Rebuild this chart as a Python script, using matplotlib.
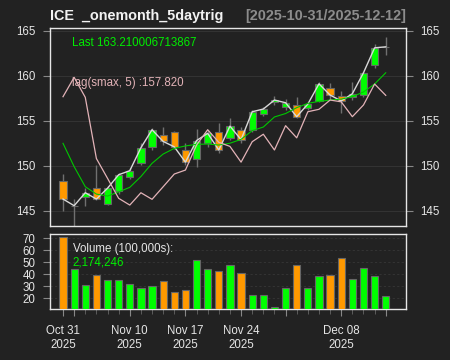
import matplotlib
matplotlib.use('Agg')
import matplotlib.pyplot as plt
import numpy as np
import pandas as pd

plt.rcParams['font.family'] = ['Liberation Sans', 'DejaVu Sans']

# trading days, Thanksgiving closed
dates = pd.bdate_range('2025-10-31', '2025-12-12')
dates = dates[dates != pd.Timestamp('2025-11-27')]

opens = [148.3, 145.55, 146.5, 147.5, 145.8, 147.2, 148.7, 150.3, 152.1, 153.4,
         153.7, 151.75, 150.7, 152.55, 153.7, 153.1, 154.0, 154.0, 155.8, 157.05,
         156.56, 156.8, 156.45, 157.2, 158.6, 157.8, 157.63, 157.86, 161.2, 163.2]
highs = [149.1, 146.3, 147.5, 150.1, 147.8, 149.2, 149.7, 152.5, 154.2, 154.3,
         153.9, 152.55, 154.1, 154.0, 154.8, 155.3, 154.3, 156.2, 156.5, 157.7,
         157.4, 157.67, 157.1, 159.3, 159.2, 158.3, 159.3, 160.45, 163.5, 164.3]
lows = [145.0, 143.2, 145.5, 146.2, 145.6, 146.9, 148.5, 150.1, 151.8, 152.3,
        151.9, 150.1, 149.9, 152.1, 151.45, 152.9, 152.5, 153.8, 155.5, 156.7,
        156.2, 155.27, 156.2, 157.1, 157.3, 155.9, 157.3, 157.67, 160.9, 162.3]
closes = [146.3, 145.56, 147.0, 146.3, 147.5, 149.0, 149.45, 152.0, 154.0, 152.7,
          152.1, 150.4, 152.8, 153.6, 151.75, 154.4, 152.9, 156.0, 156.3, 157.3,
          157.0, 155.45, 156.85, 159.1, 157.85, 157.2, 158.0, 160.33, 163.1, 163.21]
# volume in 100,000s
volume = [70.8, 44.2, 31.1, 39.7, 35.0, 35.0, 32.2, 28.6, 30.3, 34.7,
          25.4, 27.3, 51.9, 44.4, 43.0, 47.5, 41.3, 22.75, 22.75, 13.0,
          28.3, 48.0, 28.6, 38.6, 39.2, 53.8, 35.8, 45.1, 38.6, 21.74]
sma = [152.49, 149.9, 147.67, 146.85, 146.63, 147.1, 147.6, 148.8, 150.27, 151.3,
       151.93, 152.2, 152.38, 152.41, 152.3, 152.5, 152.93, 153.9, 154.3, 155.42,
       155.8, 156.45, 156.93, 157.15, 157.3, 157.4, 157.67, 158.2, 159.08, 160.33]
lag_smax = [157.67, 159.82, 157.6, 150.8, 148.6, 146.38, 145.63, 147.0, 146.27, 147.67,
            149.08, 149.52, 152.3, 154.0, 152.6, 152.15, 150.4, 152.67, 153.5, 151.75,
            154.45, 153.1, 156.0, 156.27, 157.3, 157.1, 155.45, 156.75, 159.08, 157.82]

major_idx = [0, 1, 6, 11, 16, 20, 25, 29]
labelled = [0, 6, 11, 16, 25]

BG = '#222222'
UP = '#00ff00'
DN = '#ff9900'
EDGE = '#666666'
FG = '#e6e6e6'
GRID = '#333333'
PINK = '#e3b3b8'

x = np.arange(len(closes))
o = np.array(opens)
c = np.array(closes)
colors = np.where(c >= o, UP, DN)

fig = plt.figure(figsize=(4.5, 3.6), dpi=100, facecolor=BG)
ax = fig.add_axes([0.1111, 0.3736, 0.7911, 0.5478], facecolor=BG)
axv = fig.add_axes([0.1111, 0.1417, 0.7911, 0.2075], facecolor=BG, sharex=ax)

# candles
ax.vlines(x, lows, highs, color='#707070', lw=1, zorder=2)
ax.bar(x, np.abs(c - o), bottom=np.minimum(o, c), width=0.65, color=colors,
       edgecolor=EDGE, lw=0.8, zorder=3)
ax.plot(x, closes, color='#d9d9d9', lw=1, zorder=4)
ax.plot(x, sma, color='#00c800', lw=0.8, zorder=4)
ax.plot(x, lag_smax, color=PINK, lw=0.9, zorder=4)

ax.set_xlim(-1.17, 30.82)
ax.set_ylim(143.36, 165.27)
ax.set_yticks(range(145, 166, 5))
ax.yaxis.grid(True, color=GRID, lw=0.8)
ax.set_axisbelow(True)
ax.tick_params(axis='y', colors='#888888', labelcolor=FG, labelsize=8.3,
               length=5, pad=5.5, right=True, labelright=True)
ax.tick_params(axis='x', which='both', bottom=False, labelbottom=False)

# volume
axv.bar(x, volume, width=0.65, color=colors, edgecolor=EDGE, lw=0.8, zorder=3)
axv.set_ylim(11.1, 73.3)
axv.set_yticks(range(20, 71, 10))
axv.yaxis.grid(True, color=GRID, lw=0.8, ls=(0, (2, 2)))
axv.set_axisbelow(True)
axv.set_xticks(major_idx)
axv.set_xticklabels([dates[i].strftime('%b %d\n%Y') if i in labelled else ''
                     for i in major_idx])
axv.set_xticks(x, minor=True)
axv.tick_params(axis='y', colors='#888888', labelcolor=FG, labelsize=8.3,
                length=5, pad=5.5)
axv.tick_params(axis='x', which='major', colors='#888888', labelcolor=FG,
                labelsize=8.3, length=5, pad=6.5)
axv.tick_params(axis='x', which='minor', colors='#666666', length=3.5)

for a in (ax, axv):
    for s in a.spines.values():
        s.set_color(FG)
        s.set_linewidth(1)

# titles and labels
fig.text(0.1111, 0.944, 'ICE  _onemonth_5daytrig', color='#f2f2f2',
         fontsize=10.4, fontweight='bold', ha='left', va='baseline')
fig.text(0.9022, 0.944, '[%s/%s]' % (dates[0].strftime('%Y-%m-%d'),
                                     dates[-1].strftime('%Y-%m-%d')),
         color='#8c8c8c', fontsize=10.4, fontweight='bold', ha='right', va='baseline')
fig.text(0.16, 0.881, 'Last %s' % '163.210006713867', color='#00ee00',
         fontsize=8.3, ha='left', va='center')
fig.text(0.16, 0.7686, 'lag(smax, 5) :%.3f' % lag_smax[-1], color=PINK,
         fontsize=8.3, ha='left', va='center')
fig.text(0.1615, 0.3083, 'Volume (100,000s):', color=FG,
         fontsize=8.3, ha='left', va='center')
fig.text(0.1615, 0.2703, '{:,}'.format(2174246), color='#00ee00',
         fontsize=8.3, ha='left', va='center')

fig.savefig('out.png', dpi=100, facecolor=BG)
